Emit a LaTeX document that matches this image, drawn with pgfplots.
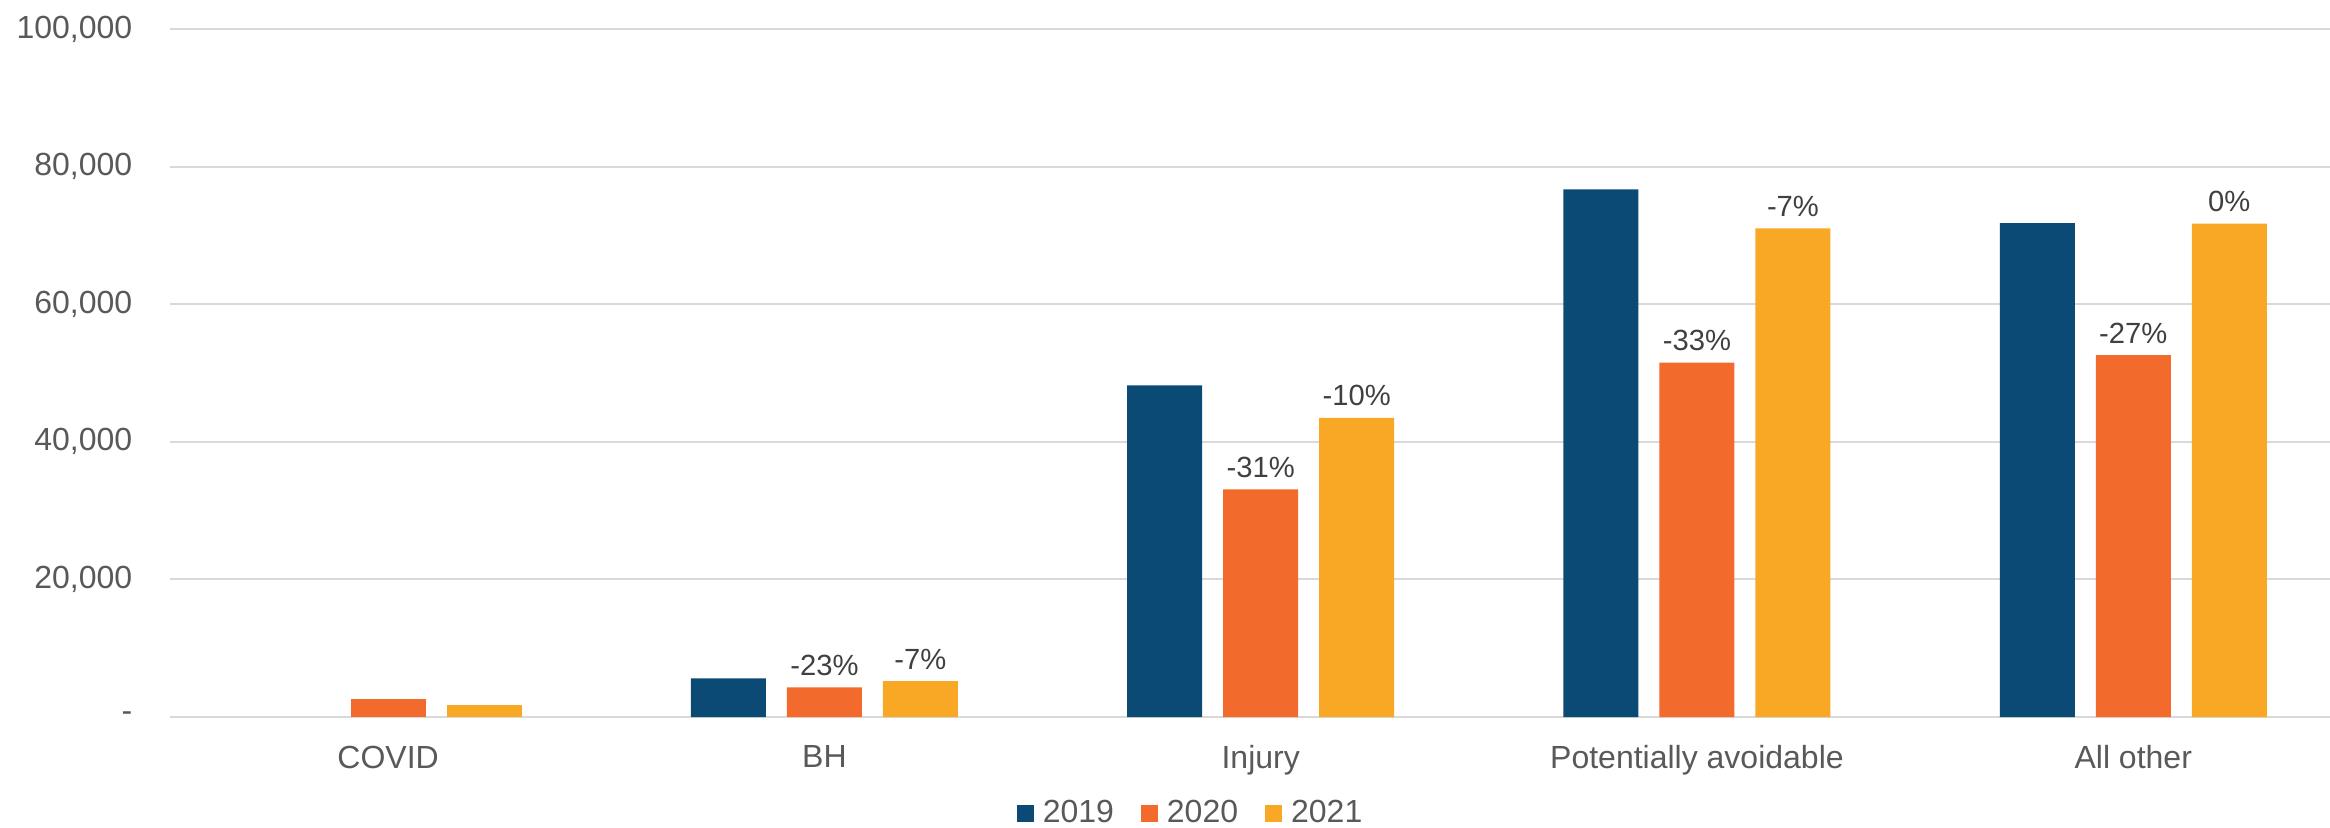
\documentclass[border=0pt]{standalone}
\usepackage{pgfplots}
\pgfplotsset{compat=1.18}
\usepackage{fontspec}
\setmainfont{Liberation Sans}
\definecolor{c19}{HTML}{0B4A75}
\definecolor{c20}{HTML}{F26A2C}
\definecolor{c21}{HTML}{F9A825}
\definecolor{gridc}{HTML}{D9D9D9}
\definecolor{tickc}{HTML}{595959}
\definecolor{labc}{HTML}{404040}
\begin{document}
\begin{tikzpicture}
\begin{axis}[
  scale only axis, width=540pt, height=172pt,
  xmin=-0.5, xmax=4.451, ymin=0, ymax=100000,
  scaled y ticks=false,
  ybar, bar width=18.75pt,
  axis line style={draw=none},
  major tick length=0pt,
  ymajorgrids, major grid style={gridc, line width=0.5pt},
  ytick={0,20000,40000,60000,80000,100000},
  yticklabels={-,{20,000},{40,000},{60,000},{80,000},{100,000}},
  xtick={0,1,2,3,4},
  xticklabels={COVID,BH,Injury,Potentially avoidable,All other},
  ticklabel style={font=\fontsize{8}{9.6}\selectfont, text=tickc},
  yticklabel style={inner sep=0pt, anchor=east, xshift=-9.25pt},
  xticklabel style={inner sep=0pt, anchor=north, yshift=-7pt},
  /pgf/number format/assume math mode=true,
  every node near coord/.append style={font=\fontsize{7.3}{8.8}\selectfont, text=labc, inner sep=0pt, yshift=2.75pt},
  legend image code/.code={\fill[#1] (0pt,-1.9pt) rectangle (4.25pt,2.35pt);},
  legend style={at={(0.472,-0.141)}, anchor=center, legend columns=3, draw=none, fill=none,
    inner sep=0pt, outer sep=0pt, font=\fontsize{8}{9.6}\selectfont, text=tickc,
    nodes={inner sep=0pt},
    /tikz/every odd column/.append style={column sep=2.25pt},
    /tikz/every even column/.append style={column sep=6.75pt}},
]
\addplot[fill=c19, draw=none, bar shift=-24pt] coordinates {(1,5620) (2,48200) (3,76700) (4,71800)};
\addlegendentry{2019}
\addplot[fill=c20, draw=none, bar shift=0pt, nodes near coords, point meta=explicit symbolic]
  coordinates {(1,4320) [-23\%] (2,33100) [-31\%] (3,51500) [-33\%] (4,52600) [-27\%]};
\addlegendentry{2020}
\addplot[fill=c21, draw=none, bar shift=24pt, nodes near coords, point meta=explicit symbolic]
  coordinates {(1,5230) [-7\%] (2,43460) [-10\%] (3,71030) [-7\%] (4,71700) [0\%]};
\addlegendentry{2021}
\addplot[fill=c20, draw=none, bar shift=0pt, forget plot] coordinates {(0,2660)};
\addplot[fill=c21, draw=none, bar shift=24pt, forget plot] coordinates {(0,1700)};
\coordinate (bbll) at (rel axis cs:-0.0787,-0.1613);
\coordinate (bbur) at (rel axis cs:1,1.04215);
\end{axis}
\pgfresetboundingbox
\path[use as bounding box] (bbll) rectangle (bbur);
\end{tikzpicture}
\end{document}
